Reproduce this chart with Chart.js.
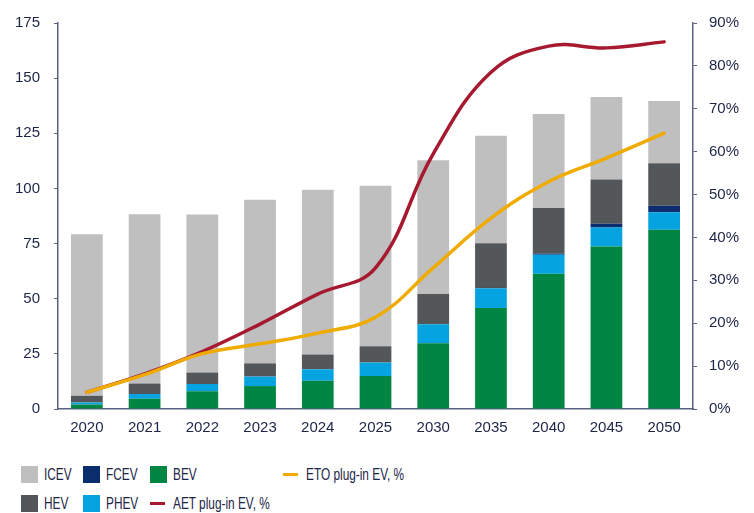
<!DOCTYPE html>
<html>
<head>
<meta charset="utf-8">
<script src="https://cdn.jsdelivr.net/npm/chart.js@4"></script>
<style>
  body { margin: 0; background: #fff; font-family: "Liberation Sans", Arial, sans-serif; }
  #wrap { position: relative; width: 754px; height: 513px; }
  #c { position: absolute; left: 0; top: 0; }
  .lg { position: absolute; font-size: 16px; color: #1d2547; line-height: 17px; white-space: nowrap; }
  .lg i { position: absolute; left: 0; top: 0; width: 17px; height: 17px; }
  .lg b { position: absolute; left: 0; top: 7px; width: 15px; height: 3px; }
  /* reference legend uses a condensed face; squeeze the regular one */
  .lg span { position: absolute; left: 23px; top: 0; transform: scaleX(0.74); transform-origin: 0 50%; }
</style>
</head>
<body>
<div id="wrap">
  <canvas id="c" width="754" height="450"></canvas>
  <div id="legend"></div>
</div>
<script>
// categories
var years = ['2020','2021','2022','2023','2024','2025','2030','2035','2040','2045','2050'];

// stacked bars (left axis)
var bev  = [2, 4.6, 8, 10.4, 12.8, 15, 29.8, 45.8, 61.3, 73.7, 81.3];
var phev = [1, 2.2, 3.3, 4.3, 5.2, 6.1, 8.6, 8.9, 8.6, 8.6, 7.9];
var fcev = [0, 0, 0, 0, 0, 0, 0, 0.2, 0.6, 1.7, 3];
var hev  = [3, 4.8, 5.2, 6, 6.7, 7.3, 13.7, 20.2, 20.6, 20.1, 19.2];
var icev = [73.2, 76.7, 71.7, 74.2, 74.7, 72.8, 60.7, 48.8, 42.6, 37.4, 28.2];

// lines (right axis, %)
var eto = [3.9, 8.0, 12.9, 15.2, 17.7, 21.4, 32.9, 44.5, 53, 58.5, 64.3];
var aet = [3.9, 8.2, 13.4, 19.8, 26.8, 32.9, 59.5, 78.5, 84.6, 84.2, 85.6];

var leftTicks = [0, 25, 50, 75, 100, 125, 150, 175];

var navy = '#1d2547';
var axisCol = '#5b6182';

function bar(label, data, color) {
  return { type: 'bar', label: label, data: data, backgroundColor: color, borderWidth: 0,
           yAxisID: 'y', stack: 's', order: 2, barPercentage: 0.55, categoryPercentage: 1 };
}
function line(label, data, color) {
  return { type: 'line', label: label, data: data, borderColor: color, backgroundColor: color,
           borderWidth: 3.5, pointRadius: 0, tension: 0.4, yAxisID: 'y1', order: 1,
           borderCapStyle: 'round', fill: false };
}

var ds = [
  bar('BEV', bev, '#008542'),
  bar('PHEV', phev, '#05a3e0'),
  bar('FCEV', fcev, '#0a2d6e'),
  bar('HEV', hev, '#53575a'),
  bar('ICEV', icev, '#bfbfbf'),
  line('ETO plug-in EV, %', eto, '#f0ab00'),
  line('AET plug-in EV, %', aet, '#a6192e')
];

new Chart(document.getElementById('c'), {
  data: { labels: years, datasets: ds },
  options: {
    responsive: false,
    animation: false,
    layout: { padding: { top: 10, left: 0, right: 0, bottom: 0 } },
    plugins: { legend: { display: false }, tooltip: { enabled: false } },
    scales: {
      x: {
        stacked: true,
        grid: { display: false, drawTicks: false },
        border: { color: axisCol, width: 1.5 },
        ticks: { color: navy, font: { size: 15, family: 'Liberation Sans' }, padding: 10 },
        afterFit: function (s) { s.height = 41; }
      },
      y: {
        stacked: true, position: 'left', min: 0, max: 175,
        afterBuildTicks: function (s) { s.ticks = leftTicks.map(function (v) { return { value: v }; }); },
        grid: { display: true, drawOnChartArea: false, tickLength: 4, color: axisCol },
        border: { color: axisCol, width: 1.5 },
        ticks: { color: navy, font: { size: 15, family: 'Liberation Sans' }, padding: 14 },
        afterFit: function (s) { s.width = 58; }
      },
      y1: {
        position: 'right', min: 0, max: 90,
        ticks: { stepSize: 10, color: navy, font: { size: 15, family: 'Liberation Sans' }, padding: 12,
                 callback: function (v) { return v + '%'; } },
        grid: { display: true, drawOnChartArea: false, tickLength: 4, color: axisCol },
        border: { color: axisCol, width: 1.5 },
        afterFit: function (s) { s.width = 61; }
      }
    }
  }
});

// legend laid out like the reference (two rows)
var legendItems = [
  { t: 'ICEV', c: '#bfbfbf', x: 21, y: 466, k: 'box' },
  { t: 'FCEV', c: '#0a2d6e', x: 83, y: 466, k: 'box' },
  { t: 'BEV', c: '#008542', x: 150, y: 466, k: 'box' },
  { t: 'ETO plug-in EV, %', c: '#f0ab00', x: 283, y: 466, k: 'line' },
  { t: 'HEV', c: '#53575a', x: 21, y: 495, k: 'box' },
  { t: 'PHEV', c: '#05a3e0', x: 83, y: 495, k: 'box' },
  { t: 'AET plug-in EV, %', c: '#a6192e', x: 150, y: 495, k: 'line' }
];
var lg = document.getElementById('legend');
legendItems.forEach(function (it) {
  var d = document.createElement('div');
  d.className = 'lg';
  d.style.left = it.x + 'px';
  d.style.top = it.y + 'px';
  var m = document.createElement(it.k == 'box' ? 'i' : 'b');
  m.style.background = it.c;
  d.appendChild(m);
  var s = document.createElement('span');
  s.textContent = it.t;
  d.appendChild(s);
  lg.appendChild(d);
});
</script>
</body>
</html>
